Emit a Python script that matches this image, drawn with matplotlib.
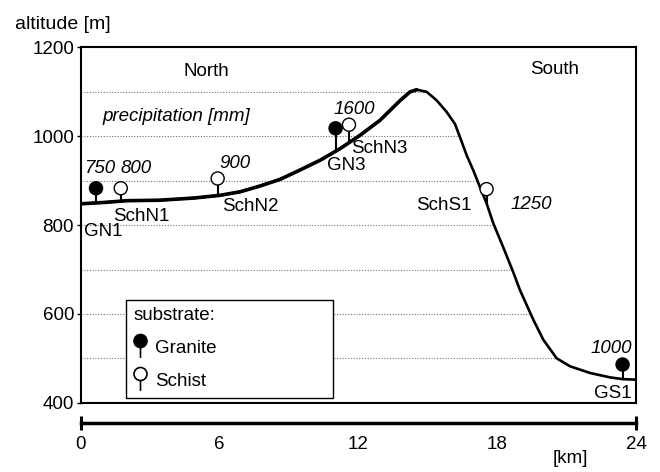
import matplotlib
matplotlib.use('Agg')
import matplotlib.pyplot as plt
import numpy as np
from matplotlib.path import Path
from matplotlib.lines import Line2D
from matplotlib.ticker import FixedLocator

plt.rcParams['font.family'] = ['Liberation Sans', 'DejaVu Sans']

# altitude profile along the transect (km, m)
profile_km = [0.0, 1.0, 2.0, 3.4, 4.9, 6.01, 6.88, 7.74, 8.61, 9.47, 10.34, 11.2, 12.06,
              12.93, 13.79, 14.23, 14.52, 14.95, 15.38, 15.81, 16.17, 16.39, 16.68, 16.96,
              17.25, 17.54, 17.83, 18.26, 18.7, 18.98, 19.56, 19.99, 20.57, 21.15, 22.01,
              22.88, 23.45, 24.0]
profile_alt = [848, 851, 855, 856, 861, 867, 875, 888, 903, 924, 946, 972, 1002,
               1036, 1080, 1100, 1105, 1100, 1081, 1055, 1028, 998, 957, 924,
               886, 849, 804, 750, 693, 654, 587, 542, 500, 482, 467,
               457, 453, 452]

# sampling sites
site_names = ['GN1', 'SchN1', 'SchN2', 'GN3', 'SchN3', 'SchS1', 'GS1']
site_km = [0.65, 1.72, 5.91, 11.01, 11.59, 17.54, 23.42]
site_alt = [883, 883, 905, 1018, 1026, 881, 486]
site_substrate = ['Granite', 'Schist', 'Schist', 'Granite', 'Schist', 'Schist', 'Granite']
name_km = [0.97, 2.62, 7.34, 11.49, 12.92, 15.7, 22.98]
name_alt = [785, 820, 841, 935, 973, 844, 420]

# precipitation labels
precip_text = ['750', '800', '900', '1600', '1250', '1000']
precip_km = [0.82, 2.4, 6.66, 11.8, 19.46, 22.95]
precip_alt = [928, 928, 939, 1060, 847, 521]

grid_levels = [500, 600, 700, 800, 900, 1000, 1100]
y_ticks = [400, 600, 800, 1000, 1200]
x_ticks = [0, 6, 12, 18, 24]

FS = 13.5

fig = plt.figure(figsize=(6.6, 4.72), dpi=100)
ax = fig.add_axes([0.1227, 0.1468, 0.8409, 0.7526])

km = np.array(profile_km)
alt = np.array(profile_alt)
top = np.argmax(alt)
# northern slope is drawn a bit heavier than the southern one
ax.plot(km, alt, color='black', lw=1.9, solid_joinstyle='round', solid_capstyle='round', zorder=3)
ax.plot(km[:top + 1], alt[:top + 1], color='black', lw=2.6, solid_joinstyle='round',
        solid_capstyle='round', zorder=3)

# dotted levels run from the left edge to the southern slope
for lvl in grid_levels:
    xend = np.interp(lvl, alt[top:][::-1], km[top:][::-1])
    ax.hlines(lvl, 0, xend, colors='0.45', linestyles=(0, (1, 1.5)), lw=0.8, zorder=1)

# pins: stem from ground to the circle
base = np.interp(site_km, km, alt)
ax.vlines(site_km, base, site_alt, color='black', lw=1.5, zorder=4)
fill = ['black' if s == 'Granite' else 'white' for s in site_substrate]
ax.scatter(site_km, site_alt, s=9.4 ** 2, c=fill, edgecolors='black', linewidths=1, zorder=5)

for n, x, y in zip(site_names, name_km, name_alt):
    ax.text(x, y, n, ha='center', va='center', fontsize=FS)
for t, x, y in zip(precip_text, precip_km, precip_alt):
    ax.text(x, y, t, ha='center', va='center', fontsize=FS, style='italic')

ax.text(4.14, 1045, 'precipitation [mm]', ha='center', va='center', fontsize=FS, style='italic')
ax.text(5.43, 1146, 'North', ha='center', va='center', fontsize=FS)
ax.text(20.5, 1150, 'South', ha='center', va='center', fontsize=FS)

ax.set_xlim(0, 24)
ax.set_ylim(400, 1200)
ax.set_xticks([])
ax.set_yticks(y_ticks)
ax.tick_params(axis='y', length=3, width=1, pad=2, labelsize=FS)
for sp in ax.spines.values():
    sp.set_linewidth(1.5)

# separate km scale bar below the box
sec = ax.secondary_xaxis(-0.058)
sec.set_xticks(x_ticks)
sec.xaxis.set_minor_locator(FixedLocator([0, 24]))
sec.xaxis.remove_overlapping_locs = False
sec.tick_params(which='major', length=0, pad=9, labelsize=FS)
sec.tick_params(which='minor', direction='inout', length=9.5, width=2.2)
sec.spines['bottom'].set_linewidth(2.5)
ax.text(0.881, -0.157, '[km]', transform=ax.transAxes, ha='center', va='center', fontsize=FS)

fig.text(0.0227, 0.949, 'altitude [m]', ha='left', va='center', fontsize=FS + 0.5)

# legend with pin-shaped markers
pin = Path.make_compound_path(Path.circle((0, 0.5), 0.5), Path([(0, 0), (0, -0.8)]))
handles = [Line2D([], [], marker=pin, ls='none', ms=18.7, mfc='black', mec='black', mew=1.2),
           Line2D([], [], marker=pin, ls='none', ms=18.7, mfc='white', mec='black', mew=1.2)]
leg = ax.legend(handles, ['Granite', 'Schist'], title='substrate:', loc='lower left',
                bbox_to_anchor=(0.081, 0.014, 0.373, 0.266), mode='expand', borderaxespad=0,
                fancybox=False, framealpha=1, edgecolor='black', fontsize=FS, title_fontsize=FS,
                alignment='left', handlelength=0.7, handletextpad=0.45, labelspacing=0.85,
                borderpad=0.4)
leg.get_frame().set_linewidth(1)
leg.set_zorder(6)

fig.savefig('out.png', dpi=100)
